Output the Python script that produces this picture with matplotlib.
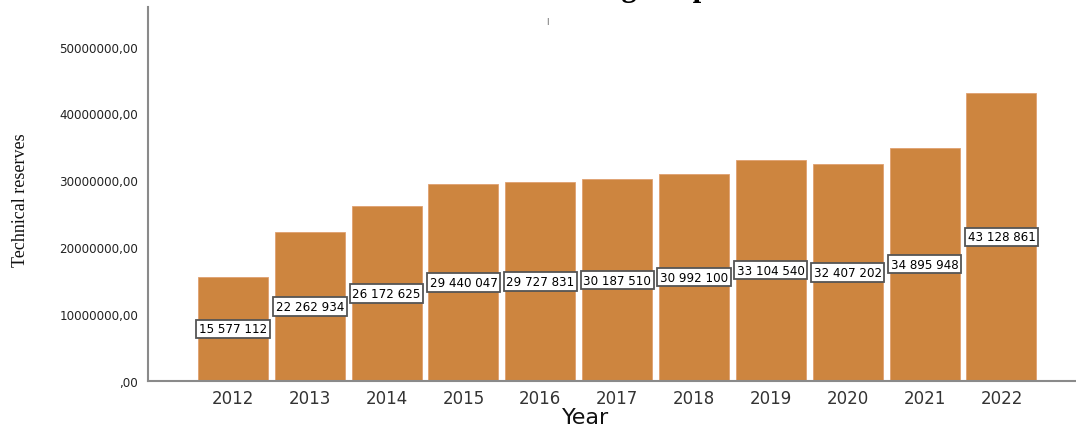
import numpy as np
import matplotlib.pyplot as plt
from matplotlib.ticker import FuncFormatter

years = ['2012', '2013', '2014', '2015', '2016', '2017', '2018', '2019', '2020', '2021', '2022']
reserves = [15577112, 22262934, 26172625, 29440047, 29727831, 30187510,
            30992100, 33104540, 32407202, 34895948, 43128861]

bar_color = '#cd853f'
axis_color = '#8a8a8a'


def y_fmt(v, pos):
    if v == 0:
        return ',00'
    return '%d,00' % int(v)


def label_fmt(v):
    return '{:,}'.format(v).replace(',', ' ')


fig = plt.figure(figsize=(10.76, 4.27), dpi=100)
ax = fig.add_axes([0.1375, 0.1054, 0.8625, 0.8756])

x = np.arange(len(years))
ax.bar(x, reserves, width=0.91, color=bar_color, edgecolor='#e0a070', linewidth=0.6)

for xi, v in zip(x, reserves):
    ax.text(xi, v / 2, label_fmt(v), ha='center', va='center', fontsize=8.6,
            family='DejaVu Sans', color='black',
            bbox=dict(boxstyle='square,pad=0.22', fc='white', ec='#555555', lw=1.3))

ax.set_xlim(-1.105, 10.97)
ax.set_ylim(0, 55.9e6)
ax.set_xticks(x)
ax.set_xticklabels(years, fontsize=12, family='DejaVu Sans', color='#333333')
ax.set_yticks(np.arange(0, 50000001, 10000000))
ax.yaxis.set_major_formatter(FuncFormatter(y_fmt))
for t in ax.get_yticklabels():
    t.set_fontsize(8.6)
    t.set_family('DejaVu Sans')
    t.set_color('#222222')
ax.tick_params(axis='both', length=0)
ax.tick_params(axis='y', pad=7)
ax.tick_params(axis='x', pad=6)

for s in ['top', 'right']:
    ax.spines[s].set_visible(False)
for s in ['left', 'bottom']:
    ax.spines[s].set_color(axis_color)
    ax.spines[s].set_linewidth(1.5)

ax.set_xlabel('Year', fontsize=16, family='DejaVu Sans', color='#111111')
ax.xaxis.set_label_coords(0.472, -0.07)
fig.text(0.019, 0.532, 'Technical reserves', rotation=90, ha='center', va='center',
         fontsize=13, family='Liberation Serif', color='#111111')

# chart title, sitting above the canvas so only its descenders show
fig.text(0.723, 1.009, 'Technical reserves during the period', ha='right',
         va='baseline', fontsize=22, fontweight='bold', family='Liberation Serif')
fig.text(0.509, 0.95, '|', ha='center', va='center', fontsize=5, color='#333333')

fig.savefig('out.png', dpi=100)
